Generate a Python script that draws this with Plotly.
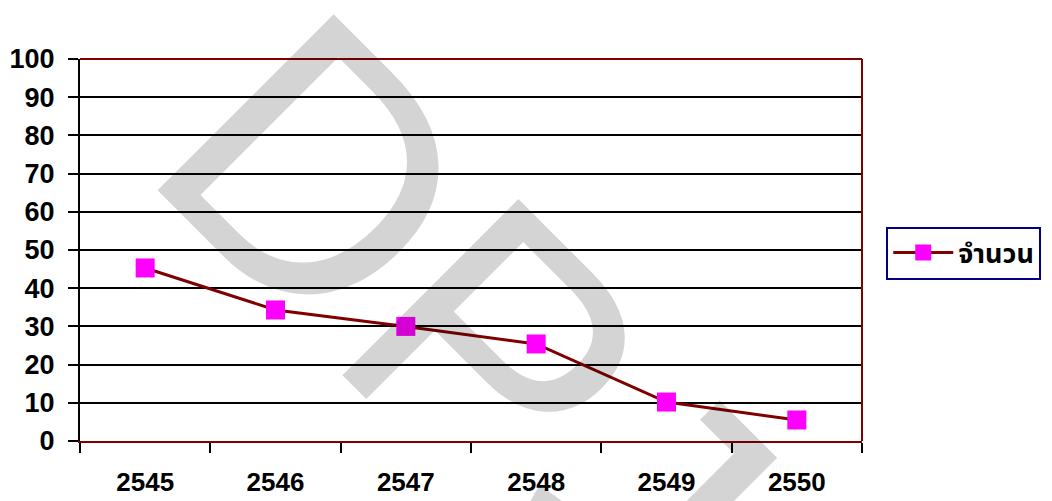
import plotly.graph_objects as go

years = ["2545", "2546", "2547", "2548", "2549", "2550"]
values = [45.3, 34.3, 30.0, 25.4, 10.2, 5.5]
series_name = "จำนวน"
watermark = "DPJ"

FONT = "Liberation Sans, Arial, Tahoma, 'Noto Sans Thai', sans-serif"

fig = go.Figure()
fig.add_trace(go.Scatter(
    x=years, y=values, name=series_name, mode="lines+markers",
    line=dict(color="#800000", width=3),
    marker=dict(symbol="square", size=19, color="#FF00FF",
                line=dict(color="#FF00FF", width=0)),
))

# page body has an 8px default margin, so the figure is slightly smaller
fig.update_layout(
    width=1044, height=493,
    margin=dict(l=72, r=190, t=51, b=60, autoexpand=False),
    paper_bgcolor="white", plot_bgcolor="white",
    font=dict(family=FONT, size=27, color="black"),
    showlegend=True,
    legend=dict(
        x=1.031, y=0.492, xanchor="left", yanchor="middle",
        bordercolor="#000080", borderwidth=2, bgcolor="white",
        font=dict(family=FONT, size=27, color="black", weight="bold"),
        itemwidth=60,
    ),
    xaxis=dict(
        type="category", tickson="boundaries", ticks="outside", ticklen=10,
        tickcolor="black", tickwidth=1.5, showgrid=False, showline=True,
        linecolor="#800000", linewidth=2, mirror=False, automargin=False,
        tickfont=dict(size=26, weight="bold"), ticklabelstandoff=17,
        range=[-0.5, 5.5], zeroline=False,
    ),
    yaxis=dict(
        range=[0, 100], dtick=10, ticks="outside", ticklen=10,
        tickcolor="black", tickwidth=1.5, showgrid=True, gridcolor="black",
        gridwidth=1.5, showline=True, linecolor="black", linewidth=2,
        automargin=False,
        tickfont=dict(size=27, weight="bold"), ticklabelstandoff=8,
        zeroline=False,
    ),
    shapes=[
        dict(type="line", xref="paper", yref="paper", x0=0, x1=1, y0=1, y1=1,
             line=dict(color="#800000", width=2)),
        dict(type="line", xref="paper", yref="paper", x0=1, x1=1, y0=0, y1=1,
             line=dict(color="#800000", width=2)),
    ],
    annotations=[
        dict(text=watermark, xref="paper", yref="paper", x=0.495, y=0.310,
             xanchor="center", yanchor="middle", showarrow=False,
             textangle=45,
             font=dict(family="Liberation Sans, Arial, sans-serif", size=362,
                       color="rgba(0,0,0,0.17)")),
    ],
)

fig.write_html("out.html")
